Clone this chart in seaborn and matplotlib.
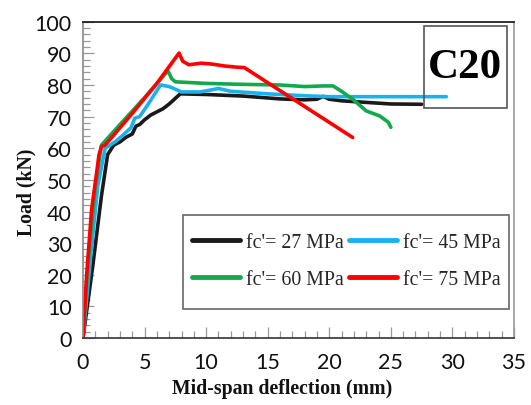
import matplotlib
matplotlib.use("Agg")
import matplotlib.pyplot as plt
import seaborn as sns
import pandas as pd
from matplotlib.patches import Rectangle
from matplotlib.ticker import MultipleLocator

# ---- data ----
x27 = [0, 0.8, 1.5, 2.0, 2.5, 3.0, 3.5, 4.0, 4.3, 4.6, 5.0, 5.5, 6.0, 6.5, 7.0, 7.9, 10, 13, 16, 18, 19, 19.5, 20, 21, 23, 25, 27.5]
y27 = [0, 23, 45, 58, 61, 62, 63.5, 64.5, 67, 67.5, 69, 70.5, 71.5, 72.5, 74, 77.2, 77, 76.5, 75.6, 75.3, 75.5, 76.4, 75.5, 75, 74.5, 74, 73.9]

x45 = [0, 0.6, 1.2, 1.8, 2.2, 2.7, 3.2, 3.9, 4.2, 4.6, 5.2, 5.8, 6.3, 7.0, 8.0, 9.5, 10.5, 11.0, 12.0, 15, 18, 20, 25, 29.5]
y45 = [0, 25, 48, 60, 61, 62.3, 64, 66.5, 69.5, 70, 73.4, 77, 80, 79.5, 77.8, 77.8, 78.5, 78.9, 78, 77.2, 76.6, 76.3, 76.3, 76.3]

x60 = [0, 0.3, 0.6, 1.0, 1.5, 3, 5, 6.9, 7.2, 7.5, 8.5, 10, 13, 16, 18, 19.5, 20.3, 21, 21.9, 23, 24.1, 24.8, 25]
y60 = [0, 18, 32, 48, 61, 67.5, 76, 84.5, 82, 81, 80.8, 80.5, 80.2, 80, 79.5, 79.7, 79.7, 78, 75.5, 71.8, 70.2, 68.2, 66.6]

x75 = [0, 0.3, 0.7, 1.1, 1.3, 1.5, 1.8, 4, 6, 7.8, 8.1, 8.6, 9.6, 10.5, 11.5, 12.6, 13.1, 13.3, 21.9]
y75 = [0, 20, 40.7, 52, 58, 60.5, 61, 71, 80.5, 90.1, 87.5, 86.4, 86.9, 86.6, 86, 85.6, 85.5, 85, 63.4]

labels = ["fc'= 27 MPa", "fc'= 45 MPa", "fc'= 60 MPa", "fc'= 75 MPa"]
colors = ["#1a1a1a", "#1ab2ec", "#12a84e", "#ff0000"]

xticks = [0, 5, 10, 15, 20, 25, 30, 35]
yticks = [0, 10, 20, 30, 40, 50, 60, 70, 80, 90, 100]

frames = []
for lab, xs, ys in zip(labels, [x27, x45, x60, x75], [y27, y45, y60, y75]):
    frames.append(pd.DataFrame({"x": xs, "y": ys, "series": lab}))
df = pd.concat(frames, ignore_index=True)

sns.set_theme(style="white")
plt.rcParams["font.family"] = ["Liberation Serif", "DejaVu Serif"]

fig = plt.figure(figsize=(5.31, 4.06), dpi=100)
ax = fig.add_axes([0.1563, 0.165, 0.8117, 0.779])

sns.lineplot(data=df, x="x", y="y", hue="series", palette=dict(zip(labels, colors)),
             sort=False, estimator=None, units="series", linewidth=2.6, ax=ax)

ax.set_xlim(0, 35)
ax.set_ylim(0, 100)
ax.set_xticks(xticks)
ax.set_yticks(yticks)
ax.xaxis.set_minor_locator(MultipleLocator(1))
ax.yaxis.set_minor_locator(MultipleLocator(2))
ax.tick_params(which="both", direction="in", color="#999999", width=0.9)
ax.tick_params(which="major", length=8)
ax.tick_params(which="minor", length=5)
ax.tick_params(axis="y", which="both", left=True, pad=8)
ax.tick_params(axis="x", which="both", bottom=True, pad=10)
for lab in ax.get_xticklabels() + ax.get_yticklabels():
    lab.set_fontfamily("Lato")
    lab.set_fontsize(15.5)
    lab.set_color("#111111")

ax.spines["left"].set_color("#888888")
ax.spines["right"].set_color("#999999")
ax.spines["top"].set_color("#111111")
ax.spines["bottom"].set_color("#333333")
for s in ax.spines.values():
    s.set_linewidth(1.2)

ax.set_xlabel("Mid-span deflection (mm)", fontsize=14.2, fontweight="bold", color="#111111")
ax.set_ylabel("Load (kN)", fontsize=14.2, fontweight="bold", color="#111111")
ax.xaxis.set_label_coords(0.462, -0.128)
ax.yaxis.set_label_coords(-0.108, 0.464)

# legend: row-wise order (27, 45 / 60, 75) -> matplotlib fills columns first
handles, labs = ax.get_legend_handles_labels()
order = [0, 2, 1, 3]
leg = ax.legend([handles[i] for i in order], [labs[i] for i in order], ncol=2,
                loc="center", bbox_to_anchor=(0.611, 0.244), frameon=False,
                fontsize=14.3, handlelength=2.4, handletextpad=0.3, columnspacing=0.3,
                labelspacing=0.9, borderpad=0.2)
for line in leg.get_lines():
    line.set_linewidth(3.5)
ax.add_patch(Rectangle((0.231, 0.092), 0.757, 0.298, transform=ax.transAxes,
                       fill=False, edgecolor="#666666", linewidth=1.2, zorder=5))

ax.add_patch(Rectangle((0.791, 0.727), 0.193, 0.259, transform=ax.transAxes,
                       fill=False, edgecolor="#555555", linewidth=1.2, zorder=5))
ax.text(0.887, 0.857, "C20", transform=ax.transAxes, ha="center", va="center",
        fontsize=31, fontweight="bold", color="black", zorder=6)

fig.savefig("out.png", dpi=100)
